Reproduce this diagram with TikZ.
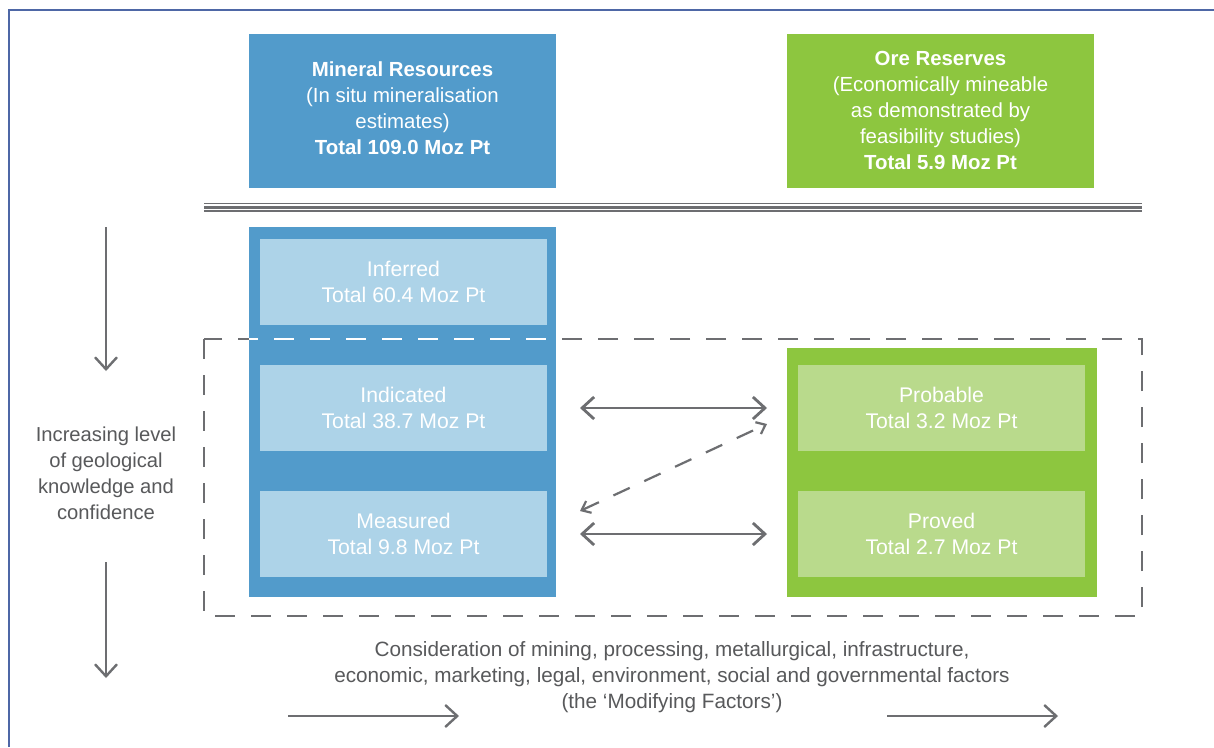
\documentclass[tikz,border=0pt]{standalone}
\usepackage{fontspec}
\setmainfont{Liberation Sans}
\usetikzlibrary{arrows.meta}
\definecolor{frameblue}{HTML}{4E67A6}
\definecolor{resblue}{HTML}{529BCB}
\definecolor{lightblue}{HTML}{ADD3E8}
\definecolor{oregreen}{HTML}{8DC63F}
\definecolor{lightgreen}{HTML}{B9DA8C}
\definecolor{arrowgray}{HTML}{6D6E71}
\definecolor{textgray}{HTML}{58595B}
\tikzset{
  boxtext/.style={font=\fontsize{20.4}{26}\selectfont, text=white, align=center, inner sep=0pt},
  topblue/.style={boxtext, fill=resblue, minimum width=307, minimum height=154},
  topgreen/.style={boxtext, fill=oregreen, minimum width=307, minimum height=154},
  innerblue/.style={boxtext, font=\fontsize{21.2}{26.5}\selectfont, fill=lightblue, minimum width=287, minimum height=86},
  innergreen/.style={boxtext, font=\fontsize{21.2}{26.5}\selectfont, fill=lightgreen, minimum width=287, minimum height=86},
  graytext/.style={font=\fontsize{20.2}{26}\selectfont, text=textgray, align=center, inner sep=0pt},
  bottomtext/.style={graytext, font=\fontsize{20.7}{26}\selectfont},
  bigarrow/.style={draw=arrowgray, line width=2.8, {Straight Barb[length=12, width=22, line width=2.8]}-{Straight Barb[length=12, width=22, line width=2.8]}},
  onearrow/.style={draw=arrowgray, line width=2.4, -{Straight Barb[length=12, width=22, line width=2.4]}},
  dasharrow/.style={draw=arrowgray, line width=2.2, dash pattern=on 18 off 16, {Straight Barb[length=8, width=13, line width=2.2]}-{Straight Barb[length=8, width=13, line width=2.2]}},
  dashbox/.style={line width=2.5, dash pattern=on 20 off 16}
}
\begin{document}
\begin{tikzpicture}[x=1pt,y=-1pt]
\useasboundingbox (0,0) rectangle (1214,747);
\fill[white] (0,0) rectangle (1214,747);
% frame
\draw[frameblue, line width=1.6] (9,747) -- (9,10) -- (1214,10);

% top boxes
\node[topblue] (minres) at (402.5,111) {};
\node[boxtext] (minrestext) at (402.5,108.5) {\bfseries Mineral Resources\\(In situ mineralisation\\estimates)\\\bfseries Total 109.0 Moz Pt};
\node[topgreen] (orers) at (940.5,111) {};
\node[boxtext] (orerstext) at (940.5,110) {\bfseries Ore Reserves\\(Economically mineable\\as demonstrated by\\feasibility studies)\\\bfseries Total 5.9 Moz Pt};

% double line
\fill[arrowgray] (204,203) rectangle (1142,211.5);
\fill[white] (204,204.4) rectangle (1142,205.8);
\fill[white] (204,209.2) rectangle (1142,210.2);

% columns
\fill[resblue] (249,227) rectangle (556,597);
\fill[oregreen] (787,348) rectangle (1097,597);
\coordinate (bluecolNW) at (249,227);
\coordinate (bluecolSE) at (556,597);

\node[innerblue] (inferred) at (403.5,282) {Inferred\\Total 60.4 Moz Pt};
\node[innerblue] (indicated) at (403.5,408) {Indicated\\Total 38.7 Moz Pt};
\node[innerblue] (measured) at (403.5,534) {Measured\\Total 9.8 Moz Pt};
\node[innergreen] (probable) at (941.5,408) {Probable\\Total 3.2 Moz Pt};
\node[innergreen] (proved) at (941.5,534) {Proved\\Total 2.7 Moz Pt};

% dashed box
\coordinate (dbNW) at (204,339);
\coordinate (dbSE) at (1142,616);
\draw[arrowgray, dashbox] (dbNW) rectangle (dbSE);
\begin{scope}
  \clip (bluecolNW) rectangle (bluecolSE);
  \draw[white, dashbox] (dbNW) rectangle (dbSE);
\end{scope}

% arrows between columns
\coordinate (a1l) at (580,408);
\coordinate (a1r) at (767,408);
\coordinate (a2l) at (580,534);
\coordinate (a2r) at (767,534);
\coordinate (d1) at (580,511);
\coordinate (d2) at (767,424);
\draw[bigarrow] (a1l) -- (a1r);
\draw[bigarrow] (a2l) -- (a2r);
\draw[dasharrow] (d1) -- (d2);

% left side
\node[graytext] (conf) at (106,473) {Increasing level\\of geological\\knowledge and\\confidence};
\coordinate (v1a) at (106,227);
\coordinate (v1b) at (106,371);
\coordinate (v2a) at (106,562);
\coordinate (v2b) at (106,678);
\draw[onearrow] (v1a) -- (v1b);
\draw[onearrow] (v2a) -- (v2b);

% bottom text and arrows
\node[bottomtext] (modf) at (672,677) {Consideration of mining, processing, metallurgical, infrastructure,\\economic, marketing, legal, environment, social and governmental factors\\(the ‘Modifying Factors’)};
\coordinate (b1a) at (288,716);
\coordinate (b1b) at (459,716);
\coordinate (b2a) at (887,716);
\coordinate (b2b) at (1058,716);
\draw[onearrow] (b1a) -- (b1b);
\draw[onearrow] (b2a) -- (b2b);
\end{tikzpicture}
\end{document}
